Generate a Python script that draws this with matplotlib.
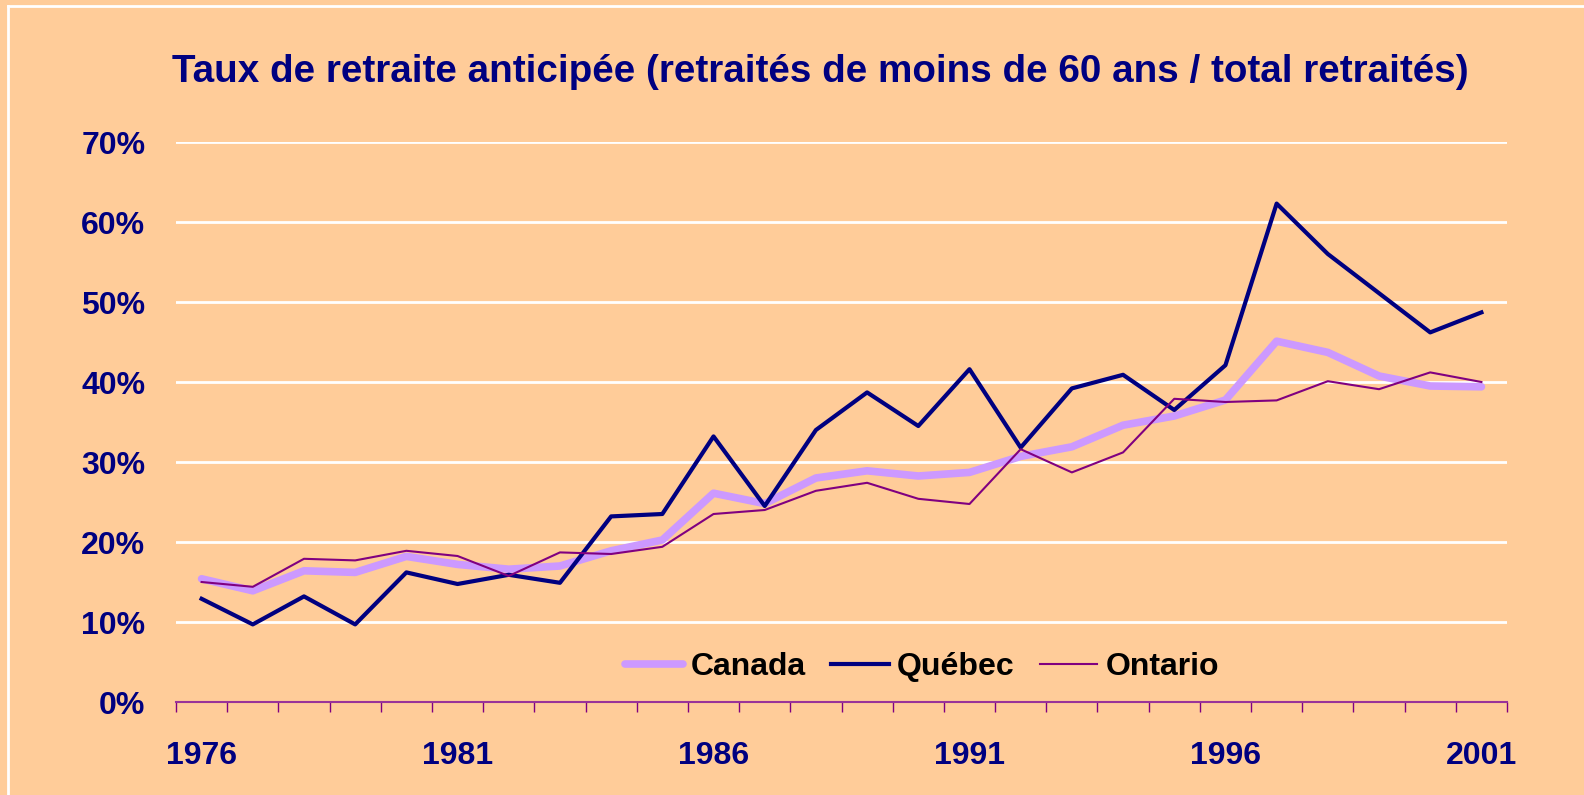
import matplotlib
matplotlib.use("Agg")
import matplotlib.pyplot as plt
from matplotlib.lines import Line2D
from matplotlib.ticker import FixedLocator, PercentFormatter

years = list(range(1976, 2002))
canada = [15.4, 13.9, 16.4, 16.2, 18.2, 17.2, 16.6, 17.0, 18.9, 20.25, 26.1, 24.8, 28.0,
          28.9, 28.25, 28.7, 30.7, 31.9, 34.6, 35.75, 37.75, 45.1, 43.7, 40.75, 39.5, 39.4]
quebec = [12.9, 9.7, 13.2, 9.7, 16.2, 14.75, 15.9, 14.9, 23.2, 23.5, 33.2, 24.5, 34.0,
          38.7, 34.5, 41.6, 31.8, 39.2, 40.9, 36.5, 42.1, 62.3, 56.0, 51.1, 46.2, 48.7]
ontario = [15.0, 14.4, 17.9, 17.7, 18.9, 18.25, 15.75, 18.7, 18.5, 19.4, 23.5, 24.0, 26.4,
           27.4, 25.4, 24.75, 31.6, 28.7, 31.2, 37.9, 37.5, 37.7, 40.1, 39.1, 41.2, 40.0]
series_names = ["Canada", "Québec", "Ontario"]
title = "Taux de retraite anticipée (retraités de moins de 60 ans / total retraités)"
yticks = [0, 10, 20, 30, 40, 50, 60, 70]

BG = "#FFCC99"
NAVY = "#000080"
plt.rcParams['font.family'] = ['Liberation Sans', 'DejaVu Sans']

fig = plt.figure(figsize=(15.84, 7.95), dpi=100, facecolor=BG)
ax = fig.add_axes([176/1584, 1-702/795, (1507-176)/1584, (702-142)/795])
ax.set_facecolor(BG)

x = list(range(len(years)))
ax.plot(x, canada, color="#CC99FF", lw=5.5, label=series_names[0], zorder=3, solid_capstyle='round')
ax.plot(x, quebec, color=NAVY, lw=3.0, label=series_names[1], zorder=4)
ax.plot(x, ontario, color="#800080", lw=1.5, label=series_names[2], zorder=5)

ax.set_xlim(-0.5, len(years) - 0.5)
ax.set_ylim(0, 70)
ax.set_yticks(yticks)
ax.yaxis.set_major_formatter(PercentFormatter(decimals=0))
ax.grid(axis='y', color='white', lw=2, zorder=1)
ax.set_axisbelow(True)
for s in ['top', 'right', 'left']:
    ax.spines[s].set_visible(False)
ax.spines['bottom'].set_color("#993399")
ax.spines['bottom'].set_linewidth(1.5)
ax.spines['bottom'].set_zorder(6)

label_idx = [i for i, y in enumerate(years) if (y - 1976) % 5 == 0]
ax.set_xticks(label_idx)
ax.set_xticklabels([str(years[i]) for i in label_idx])
ax.xaxis.set_minor_locator(FixedLocator([i - 0.5 for i in range(len(years) + 1)]))
ax.tick_params(axis='x', which='major', length=0, pad=28, labelsize=23, labelcolor=NAVY)
ax.tick_params(axis='x', which='minor', length=7, width=1, color="#800080", direction='out')
ax.tick_params(axis='y', length=0, pad=22, labelsize=23, labelcolor=NAVY)
for lab in ax.get_xticklabels() + ax.get_yticklabels():
    lab.set_fontweight('bold')

leg = ax.legend(loc='center', bbox_to_anchor=((922-176)/1331, (702-667)/560), ncol=3,
                frameon=False, prop={'weight': 'bold', 'size': 23},
                handlelength=1.8, columnspacing=0.8, handletextpad=0.25)

fig.text(0.518, 1-72/795, title, ha='center', va='center', fontsize=27.8,
         fontweight='bold', color=NAVY)

fig.add_artist(Line2D([8/1584, 8/1584], [0, 1-6/795], color='white', lw=2, transform=fig.transFigure))
fig.add_artist(Line2D([8/1584, 1], [1-6/795, 1-6/795], color='white', lw=2, transform=fig.transFigure))

fig.savefig("out.png", dpi=100, facecolor=BG)
